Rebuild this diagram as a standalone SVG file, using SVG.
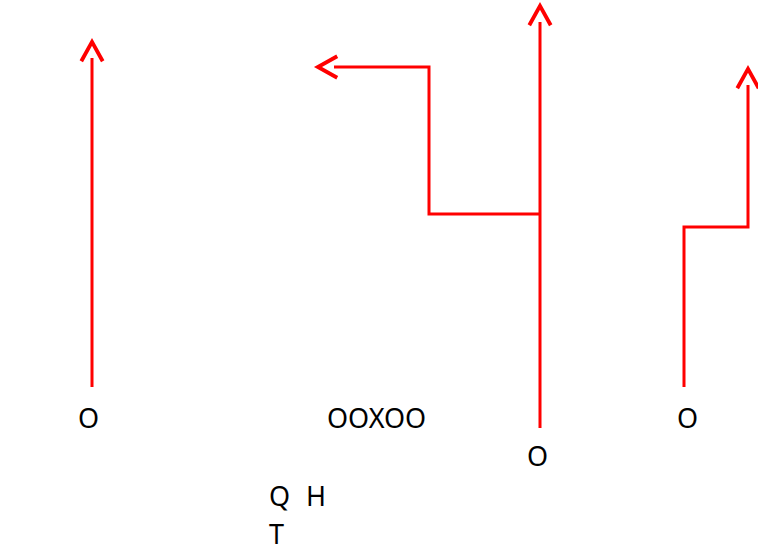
<svg xmlns="http://www.w3.org/2000/svg" width="758" height="548" viewBox="0 0 758 548">
<style>
.c{fill:none;stroke:#ff0000;stroke-width:3;stroke-linejoin:miter}
.t{font-family:"Noto Sans","Open Sans","DejaVu Sans",sans-serif;font-size:27px;fill:#000}
</style>
<defs>
<marker id="a" markerUnits="userSpaceOnUse" markerWidth="30" markerHeight="30" viewBox="-2 -14 26 28" refX="3" refY="0" orient="auto" overflow="visible">
<path d="M0 -10 L18 0 L0 10" fill="none" stroke="#ff0000" stroke-width="3.6"/>
</marker>
</defs>
<g id="connectors">
<path class="c" d="M92 387 V58" marker-end="url(#a)"/>
<path class="c" d="M540 428 V22" marker-end="url(#a)"/>
<path class="c" d="M540 214 H429 V67 H334" marker-end="url(#a)"/>
<path class="c" d="M684 387 V227 H748 V85" marker-end="url(#a)"/>
</g>
<g id="n1"><text class="t" x="78" y="428">O</text></g>
<g id="n2"><text class="t" x="327" y="428">OOXOO</text></g>
<g id="n3"><text class="t" x="527" y="466">O</text></g>
<g id="n4"><text class="t" x="677" y="428">O</text></g>
<g id="n5"><text class="t" x="269" y="506">Q</text><text class="t" x="306" y="506">H</text></g>
<g id="n6"><text class="t" x="269" y="544">T</text></g>
</svg>
